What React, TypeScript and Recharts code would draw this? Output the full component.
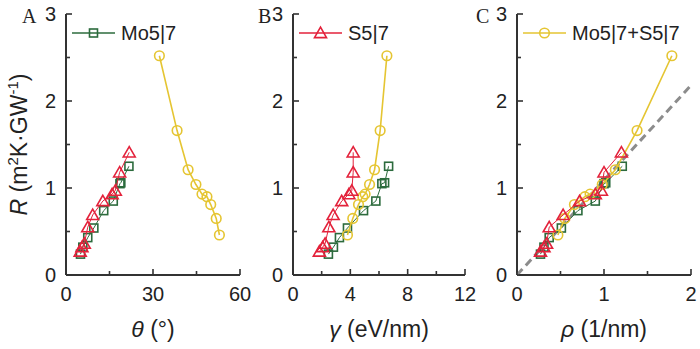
import React from 'react';
import { ComposedChart, Scatter, XAxis, YAxis, Label, Legend } from 'recharts';

const GREEN = '#2c6b3d';
const RED = '#e3223b';
const YELLOW = '#e5c532';
const AXIS = '#333333';
const FIT = '#8c8c8c';
const FONT = '"Liberation Sans", Arial, sans-serif';

// Mo5|7 (green squares)
const moR = [0.24, 0.32, 0.43, 0.54, 0.74, 0.85, 1.05, 1.06, 1.25];
const moTheta = [5.0, 5.8, 7.5, 9.6, 13.0, 16.3, 18.6, 18.9, 21.7];
const moGamma = [2.47, 2.82, 3.24, 3.8, 4.92, 5.78, 6.2, 6.39, 6.67];
const moRho = [0.27, 0.31, 0.37, 0.51, 0.7, 0.9, 1.0, 1.02, 1.21];

// S5|7 (red triangles)
const sR = [0.27, 0.32, 0.36, 0.55, 0.69, 0.85, 0.93, 0.97, 1.18, 1.41];
const sTheta = [4.9, 5.5, 6.3, 7.5, 9.2, 12.7, 15.9, 17.0, 18.5, 21.8];
const sGamma = [1.84, 2.07, 2.24, 2.5, 2.8, 3.4, 3.9, 4.1, 4.2, 4.2];
const sRho = [0.27, 0.31, 0.34, 0.37, 0.53, 0.72, 0.9, 0.97, 1.0, 1.2];

// Mo5|7+S5|7 (yellow circles)
const cR = [2.52, 1.66, 1.21, 1.04, 0.93, 0.9, 0.81, 0.65, 0.46];
const cTheta = [32.2, 38.3, 42.1, 44.8, 46.9, 48.6, 49.9, 51.8, 52.9];
const cGamma = [6.55, 6.08, 5.69, 5.34, 5.03, 4.87, 4.57, 4.17, 3.8];
const cRho = [1.78, 1.38, 1.13, 0.98, 0.84, 0.78, 0.66, 0.55, 0.47];

// linear fit in panel C
const fitRho = [0, 2];
const fitR = [0, 2.18];

const thetaTicks = [0, 15, 30, 45, 60];
const thetaLabels = [0, 30, 60];
const gammaTicks = [0, 2, 4, 6, 8, 10, 12];
const gammaLabels = [0, 4, 8, 12];
const rhoTicks = [0, 0.5, 1, 1.5, 2];
const rhoLabels = [0, 1, 2];
const rTicks = [0, 0.5, 1, 1.5, 2, 2.5, 3];
const rLabels = [0, 1, 2, 3];

const pts = (xs: number[], ys: number[]) => xs.map((x, i) => ({ x, y: ys[i] }));

type Kind = 'square' | 'triangle' | 'circle';

function marker(kind: Kind, cx: number, cy: number) {
  if (kind === 'square') {
    return <rect x={cx - 4} y={cy - 4} width={8} height={8} fill="none" stroke={GREEN} strokeWidth={1.6} />;
  }
  if (kind === 'triangle') {
    return (
      <polygon
        points={`${cx},${cy - 5.8} ${cx - 6},${cy + 4.6} ${cx + 6},${cy + 4.6}`}
        fill="none"
        stroke={RED}
        strokeWidth={1.6}
      />
    );
  }
  return <circle cx={cx} cy={cy} r={4.8} fill="none" stroke={YELLOW} strokeWidth={1.6} />;
}

const shapeOf = (kind: Kind) => (p: any) => marker(kind, p.cx, p.cy);
const noShape = () => <g />;

function makeTick(side: 'bottom' | 'left' | 'top' | 'right', labels: number[], showText: boolean) {
  return (props: any) => {
    const { x, y, payload } = props;
    const v = payload.value;
    const len = labels.includes(v) ? 6 : 4;
    let line;
    if (side === 'bottom') line = <line x1={x} x2={x} y1={y} y2={y - len} />;
    else if (side === 'top') line = <line x1={x} x2={x} y1={y} y2={y + len} />;
    else if (side === 'left') line = <line x1={x} x2={x + len} y1={y} y2={y} />;
    else line = <line x1={x} x2={x - len} y1={y} y2={y} />;
    return (
      <g stroke={AXIS} strokeWidth={1.6}>
        {line}
        {showText && labels.includes(v) && side === 'bottom' && (
          <text x={x} y={y + 12} dy="0.72em" textAnchor="middle" stroke="none" fill="#222" fontSize={20} fontFamily={FONT}>
            {v}
          </text>
        )}
        {showText && labels.includes(v) && side === 'left' && (
          <text x={x - 10} y={y} dy="0.36em" textAnchor="end" stroke="none" fill="#222" fontSize={20} fontFamily={FONT}>
            {v}
          </text>
        )}
      </g>
    );
  };
}

function LegendItem({ kind, color, label }: { kind: Kind; color: string; label: string }) {
  return (
    <svg width={160} height={24} style={{ overflow: 'visible', display: 'block' }}>
      <line x1={0} x2={43} y1={12} y2={12} stroke={color} strokeWidth={1.6} />
      {marker(kind, 21.5, 12)}
      <text x={49} y={12} dy="0.36em" fontSize={20} fontFamily={FONT} fill="#222">
        {label}
      </text>
    </svg>
  );
}

interface PanelProps {
  plotLeft: number;
  plotRight: number;
  yAxisWidth: number;
  xTicks: number[];
  xLabels: number[];
  xDomain: [number, number];
  xTitle: string;
  showYTitle?: boolean;
  mo: number[];
  s: number[];
  c: number[];
  legend: { kind: Kind; color: string; label: string };
  fit?: boolean;
}

// each panel is a full-size chart laid over the others, so nothing is clipped
function Panel(p: PanelProps) {
  return (
    <div style={{ position: 'absolute', left: 0, top: 0 }}>
      <ComposedChart
        width={700}
        height={349}
        margin={{ top: 14, right: 700 - p.plotRight, bottom: 0, left: p.plotLeft - p.yAxisWidth }}
      >
        <XAxis
          xAxisId="b"
          dataKey="x"
          type="number"
          domain={p.xDomain}
          ticks={p.xTicks}
          interval={0}
          tickSize={0}
          tickMargin={0}
          height={74}
          axisLine={{ stroke: AXIS, strokeWidth: 2 }}
          tickLine={false}
          tick={makeTick('bottom', p.xLabels, true)}
        >
          <Label
            content={(lp: any) => {
              const vb = lp.viewBox;
              const [sym, ...rest] = p.xTitle.split(' ');
              return (
                <text x={vb.x + vb.width / 2} y={vb.y + 62} textAnchor="middle" fontSize={23} fontFamily={FONT} fill="#222">
                  <tspan fontStyle="italic">{sym}</tspan>
                  {' ' + rest.join(' ')}
                </text>
              );
            }}
          />
        </XAxis>
        <XAxis
          xAxisId="t"
          orientation="top"
          type="number"
          domain={p.xDomain}
          ticks={p.xTicks}
          interval={0}
          tickSize={0}
          tickMargin={0}
          height={0}
          axisLine={{ stroke: AXIS, strokeWidth: 2 }}
          tickLine={false}
          tick={makeTick('top', p.xLabels, false)}
        />
        <YAxis
          yAxisId="l"
          dataKey="y"
          type="number"
          domain={[0, 3]}
          ticks={rTicks}
          interval={0}
          tickSize={0}
          tickMargin={0}
          width={p.yAxisWidth}
          axisLine={{ stroke: AXIS, strokeWidth: 2 }}
          tickLine={false}
          tick={makeTick('left', rLabels, true)}
        >
          {p.showYTitle && (
            <Label
              content={(lp: any) => {
                const vb = lp.viewBox;
                const cx = vb.x + 27;
                const cy = vb.y + vb.height / 2;
                return (
                  <text x={cx} y={cy} textAnchor="middle" fontSize={23} fontFamily={FONT} fill="#222" transform={`rotate(-90, ${cx}, ${cy})`}>
                    <tspan fontStyle="italic">R</tspan>
                    <tspan> (m</tspan>
                    <tspan dy={-9} fontSize={15}>2</tspan>
                    <tspan dy={9}>K·GW</tspan>
                    <tspan dy={-9} fontSize={15}>-1</tspan>
                    <tspan dy={9}>)</tspan>
                  </text>
                );
              }}
            />
          )}
        </YAxis>
        <YAxis
          yAxisId="r"
          orientation="right"
          type="number"
          domain={[0, 3]}
          ticks={rTicks}
          interval={0}
          tickSize={0}
          tickMargin={0}
          width={0}
          axisLine={{ stroke: AXIS, strokeWidth: 2 }}
          tickLine={false}
          tick={makeTick('right', rLabels, false)}
        />
        {p.fit && (
          <Scatter
            xAxisId="b"
            yAxisId="l"
            data={pts(fitRho, fitR)}
            shape={noShape}
            line={{ stroke: FIT, strokeWidth: 3, strokeDasharray: '8 5' }}
            lineType="joint"
            isAnimationActive={false}
          />
        )}
        <Scatter
          xAxisId="b"
          yAxisId="l"
          data={pts(p.mo, moR)}
          shape={shapeOf('square')}
          line={{ stroke: GREEN, strokeWidth: 1 }}
          lineType="joint"
          isAnimationActive={false}
        />
        <Scatter
          xAxisId="b"
          yAxisId="l"
          data={pts(p.c, cR)}
          shape={shapeOf('circle')}
          line={{ stroke: YELLOW, strokeWidth: 1.6 }}
          lineType="joint"
          isAnimationActive={false}
        />
        <Scatter
          xAxisId="b"
          yAxisId="l"
          data={pts(p.s, sR)}
          shape={shapeOf('triangle')}
          line={{ stroke: RED, strokeWidth: 1 }}
          lineType="joint"
          isAnimationActive={false}
        />
        <Legend
          layout="horizontal"
          verticalAlign="middle"
          align="center"
          wrapperStyle={{ position: 'absolute', left: p.plotLeft + 6, top: 21, width: 'auto' }}
          content={() => <LegendItem kind={p.legend.kind} color={p.legend.color} label={p.legend.label} />}
        />
      </ComposedChart>
    </div>
  );
}

export default function App() {
  return (
    <div style={{ position: 'absolute', left: 0, top: 0, width: 700, height: 349, background: '#fff' }}>
      <Panel
        plotLeft={66}
        plotRight={240}
        yAxisWidth={66}
        xTicks={thetaTicks}
        xLabels={thetaLabels}
        xDomain={[0, 60]}
        xTitle="θ (°)"
        showYTitle
        mo={moTheta}
        s={sTheta}
        c={cTheta}
        legend={{ kind: 'square', color: GREEN, label: 'Mo5|7' }}
      />
      <Panel
        plotLeft={293}
        plotRight={465}
        yAxisWidth={50}
        xTicks={gammaTicks}
        xLabels={gammaLabels}
        xDomain={[0, 12]}
        xTitle="γ (eV/nm)"
        mo={moGamma}
        s={sGamma}
        c={cGamma}
        legend={{ kind: 'triangle', color: RED, label: 'S5|7' }}
      />
      <Panel
        plotLeft={517}
        plotRight={691}
        yAxisWidth={46}
        xTicks={rhoTicks}
        xLabels={rhoLabels}
        xDomain={[0, 2]}
        xTitle="ρ (1/nm)"
        mo={moRho}
        s={sRho}
        c={cRho}
        legend={{ kind: 'circle', color: YELLOW, label: 'Mo5|7+S5|7' }}
        fit
      />
      <svg width={700} height={349} style={{ position: 'absolute', left: 0, top: 0, pointerEvents: 'none' }}>
        <g fontFamily='"Liberation Serif", "Times New Roman", serif' fontSize={20} fill="#222">
          <text x={22} y={23}>A</text>
          <text x={258} y={23}>B</text>
          <text x={476} y={23}>C</text>
        </g>
      </svg>
    </div>
  );
}
